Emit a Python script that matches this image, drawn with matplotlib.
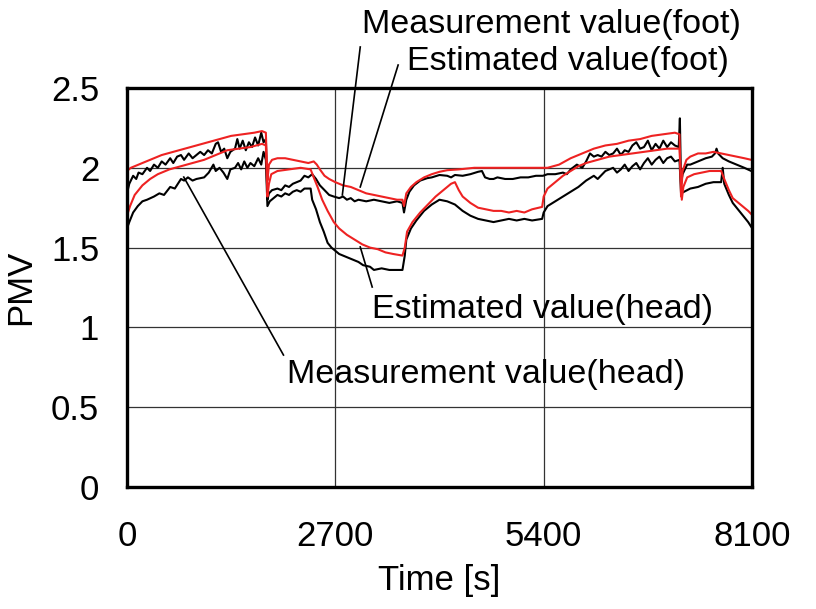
import matplotlib
matplotlib.use("Agg")
import matplotlib.pyplot as plt

plt.rcParams['font.family'] = ['Liberation Sans', 'DejaVu Sans']

# Measurement value (foot) - black, upper
t_meas_foot = [0, 30, 80, 120, 150, 200, 260, 300, 350, 400, 450, 500, 560, 600, 650, 700, 740, 800, 850, 900,
               950, 1000, 1050, 1100, 1150, 1180, 1220, 1260, 1300, 1340, 1400, 1430, 1460, 1500, 1540, 1580, 1620,
               1660, 1700, 1740, 1770, 1800, 1820, 1840, 1880, 1950, 2000, 2050, 2100, 2150, 2200, 2250, 2300, 2350,
               2400, 2450, 2500, 2560, 2620, 2680, 2750, 2800, 2850, 2900, 2950, 3000, 3100, 3200, 3300, 3400, 3500,
               3570, 3590, 3620, 3660, 3720, 3800, 3890, 3950, 4050, 4150, 4200, 4250, 4350, 4450, 4550, 4600, 4640,
               4700, 4750, 4800, 4900, 5000, 5100, 5200, 5300, 5390, 5450, 5550, 5650, 5700, 5750, 5830, 5900, 5950,
               6000, 6050, 6100, 6150, 6200, 6250, 6300, 6350, 6400, 6450, 6500, 6550, 6600, 6650, 6700, 6750, 6800,
               6850, 6900, 6950, 7000, 7050, 7100, 7150, 7165, 7180, 7200, 7260, 7300, 7400, 7500, 7580, 7620, 7640,
               7660, 7720, 7800, 7900, 8000, 8090]
v_meas_foot = [1.84, 1.90, 1.95, 1.93, 1.97, 1.96, 2.00, 1.98, 2.02, 2.00, 2.04, 2.02, 2.06, 2.03, 2.07, 2.08, 2.05,
               2.09, 2.06, 2.08, 2.10, 2.08, 2.11, 2.09, 2.15, 2.16, 2.10, 2.12, 2.06, 2.10, 2.12, 2.18, 2.12, 2.17,
               2.11, 2.16, 2.13, 2.19, 2.14, 2.22, 2.16, 2.18, 1.80, 1.84, 1.86, 1.87, 1.86, 1.89, 1.88, 1.90, 1.91,
               1.92, 1.95, 1.94, 1.96, 1.93, 1.89, 1.86, 1.83, 1.82, 1.81, 1.82, 1.80, 1.81, 1.79, 1.80, 1.79, 1.80,
               1.79, 1.78, 1.79, 1.78, 1.72, 1.80, 1.85, 1.89, 1.92, 1.935, 1.94, 1.955, 1.95, 1.94, 1.955, 1.95, 1.96,
               1.975, 1.98, 1.94, 1.93, 1.93, 1.94, 1.93, 1.93, 1.94, 1.94, 1.95, 1.95, 1.96, 1.96, 1.97, 1.96, 1.99,
               2.02, 2.00, 2.04, 2.09, 2.07, 2.08, 2.07, 2.10, 2.08, 2.09, 2.12, 2.08, 2.11, 2.10, 2.14, 2.16, 2.12,
               2.13, 2.17, 2.11, 2.15, 2.12, 2.17, 2.13, 2.16, 2.14, 2.13, 2.31, 1.90, 1.96, 2.02, 2.02, 2.04, 2.06,
               2.07, 2.09, 2.12, 2.09, 2.06, 2.04, 2.02, 2.00, 1.98]

# Estimated value (foot) - red, upper
t_est_foot = [0, 50, 150, 300, 450, 600, 750, 900, 1050, 1200, 1350, 1500, 1650, 1750, 1800, 1820, 1840, 1880, 1950,
              2050, 2150, 2250, 2350, 2420, 2460, 2500, 2560, 2620, 2700, 2800, 2900, 3000, 3100, 3200, 3300, 3400,
              3500, 3570, 3590, 3620, 3680, 3750, 3850, 3950, 4050, 4150, 4300, 4500, 4700, 4900, 5100, 5300, 5450,
              5600, 5750, 5900, 6050, 6200, 6350, 6500, 6650, 6800, 6950, 7100, 7160, 7180, 7200, 7250, 7300, 7400,
              7500, 7600, 7700, 7800, 7900, 8000, 8090]
v_est_foot = [1.98, 2.00, 2.02, 2.05, 2.08, 2.10, 2.12, 2.14, 2.16, 2.18, 2.20, 2.21, 2.22, 2.23, 2.22, 1.92, 2.02,
              2.05, 2.06, 2.06, 2.05, 2.04, 2.03, 2.04, 2.02, 1.99, 1.95, 1.93, 1.91, 1.89, 1.88, 1.86, 1.84, 1.83,
              1.82, 1.81, 1.80, 1.80, 1.76, 1.84, 1.88, 1.91, 1.94, 1.96, 1.975, 1.985, 1.99, 2.00, 2.00, 2.00, 2.00,
              2.00, 2.00, 2.02, 2.06, 2.09, 2.12, 2.14, 2.15, 2.17, 2.18, 2.20, 2.21, 2.22, 2.21, 1.82, 1.98, 2.05,
              2.07, 2.09, 2.09, 2.10, 2.09, 2.08, 2.07, 2.06, 2.05]

# Measurement value (head) - black, lower
t_meas_head = [0, 30, 80, 140, 200, 260, 350, 420, 480, 560, 620, 700, 740, 790, 850, 900, 1000, 1060, 1120, 1150,
               1200, 1250, 1300, 1340, 1400, 1440, 1480, 1520, 1560, 1600, 1650, 1700, 1740, 1770, 1800, 1820, 1850,
               1900, 1950, 2000, 2050, 2100, 2150, 2200, 2250, 2300, 2380, 2400, 2450, 2500, 2550, 2600, 2650, 2700,
               2750, 2800, 2900, 3000, 3060, 3150, 3200, 3300, 3400, 3500, 3570, 3600, 3620, 3680, 3750, 3850, 3950,
               4050, 4150, 4250, 4350, 4450, 4550, 4650, 4750, 4850, 4950, 5050, 5150, 5250, 5380, 5400, 5450, 5550,
               5650, 5750, 5850, 5950, 6050, 6100, 6200, 6300, 6350, 6400, 6450, 6500, 6550, 6600, 6650, 6700, 6750,
               6800, 6850, 6900, 6950, 7000, 7050, 7100, 7160, 7180, 7220, 7300, 7400, 7500, 7600, 7700, 7720, 7740,
               7800, 7850, 7950, 8050, 8090]
v_meas_head = [1.62, 1.66, 1.72, 1.76, 1.79, 1.80, 1.82, 1.84, 1.83, 1.88, 1.87, 1.93, 1.92, 1.94, 1.92, 1.93, 1.94,
               1.97, 2.02, 1.98, 2.00, 1.97, 1.93, 1.99, 2.00, 2.03, 1.99, 2.04, 2.00, 2.03, 2.01, 2.06, 2.02, 2.10,
               2.05, 1.76, 1.79, 1.81, 1.83, 1.82, 1.84, 1.83, 1.85, 1.86, 1.85, 1.87, 1.87, 1.80, 1.74, 1.66, 1.60,
               1.53, 1.50, 1.48, 1.46, 1.45, 1.43, 1.41, 1.39, 1.38, 1.36, 1.37, 1.36, 1.36, 1.36, 1.45, 1.55, 1.62,
               1.67, 1.73, 1.77, 1.80, 1.79, 1.77, 1.73, 1.70, 1.68, 1.67, 1.66, 1.67, 1.68, 1.67, 1.68, 1.67, 1.68,
               1.72, 1.76, 1.79, 1.82, 1.85, 1.88, 1.92, 1.95, 1.93, 1.98, 2.00, 1.97, 1.99, 2.02, 1.98, 2.01, 2.03,
               1.99, 2.03, 2.06, 2.02, 2.05, 2.07, 2.03, 2.06, 2.07, 2.04, 2.05, 1.84, 1.85, 1.87, 1.88, 1.90, 1.91,
               1.91, 2.00, 1.90, 1.83, 1.78, 1.72, 1.66, 1.63]

# Estimated value (head) - red, lower
t_est_head = [0, 40, 100, 200, 300, 400, 550, 700, 850, 1000, 1150, 1300, 1450, 1600, 1750, 1800, 1820, 1840, 1870,
              1950, 2100, 2250, 2380, 2420, 2470, 2530, 2600, 2680, 2750, 2850, 2950, 3050, 3150, 3250, 3350, 3450,
              3570, 3600, 3630, 3700, 3800, 3900, 4000, 4100, 4200, 4250, 4300, 4350, 4450, 4550, 4650, 4750, 4850,
              4950, 5050, 5150, 5250, 5380, 5400, 5450, 5550, 5650, 5750, 5850, 5950, 6100, 6250, 6400, 6550, 6700,
              6850, 7000, 7160, 7190, 7210, 7260, 7350, 7450, 7550, 7650, 7700, 7740, 7800, 7850, 7950, 8050, 8090]
v_est_head = [1.70, 1.76, 1.83, 1.89, 1.93, 1.96, 1.99, 2.01, 2.03, 2.05, 2.08, 2.11, 2.12, 2.13, 2.15, 2.14, 1.82,
              1.90, 1.96, 1.98, 1.99, 2.00, 1.99, 1.94, 1.88, 1.80, 1.73, 1.66, 1.62, 1.58, 1.55, 1.52, 1.50, 1.49,
              1.47, 1.46, 1.45, 1.50, 1.60, 1.66, 1.72, 1.77, 1.82, 1.86, 1.90, 1.91, 1.86, 1.82, 1.78, 1.75, 1.74,
              1.73, 1.73, 1.72, 1.73, 1.72, 1.74, 1.755, 1.82, 1.87, 1.91, 1.95, 1.98, 2.01, 2.03, 2.05, 2.07, 2.08,
              2.09, 2.10, 2.11, 2.12, 2.12, 1.80, 1.88, 1.94, 1.96, 1.97, 1.98, 1.98, 1.98, 1.93, 1.86, 1.81, 1.77,
              1.73, 1.71]

x_ticks = [0, 2700, 5400, 8100]
y_ticks = [0, 0.5, 1, 1.5, 2, 2.5]

fig = plt.figure(figsize=(8.16, 6.09), dpi=100)
ax = fig.add_axes([0.1556, 0.2003, 0.766, 0.6552])

ax.plot(t_meas_head, v_meas_head, color='black', lw=1.5)
ax.plot(t_meas_foot, v_meas_foot, color='black', lw=1.5)
ax.plot(t_est_head, v_est_head, color='#ee2222', lw=1.5)
ax.plot(t_est_foot, v_est_foot, color='#ee2222', lw=1.5)

ax.set_xlim(0, 8100)
ax.set_ylim(0, 2.5)
ax.set_xticks(x_ticks)
ax.set_yticks(y_ticks)
ax.set_yticklabels(['0', '0.5', '1', '1.5', '2', '2.5'])
ax.tick_params(length=0, labelsize=25)
ax.tick_params(axis='x', pad=24)
ax.tick_params(axis='y', pad=20)
ax.grid(True, color='#333333', lw=0.9)
ax.set_axisbelow(True)
for s in ax.spines.values():
    s.set_linewidth(2.4)

ax.set_xlabel('Time [s]', fontsize=25, labelpad=8)
ax.set_ylabel('PMV', fontsize=25, labelpad=10)

# labels with leader lines
ax.text(3049, 2.895, 'Measurement value(foot)', fontsize=24.5, va='center', ha='left', clip_on=False)
ax.plot([3023, 2791], [2.757, 1.83], color='black', lw=1.2, clip_on=False)
ax.text(3630, 2.669, 'Estimated value(foot)', fontsize=24.5, va='center', ha='left', clip_on=False)
ax.plot([3514, 3023], [2.644, 1.88], color='black', lw=1.2, clip_on=False)
ax.text(3178, 1.115, 'Estimated value(head)', fontsize=24.5, va='center', ha='left')
ax.plot([3178, 3023], [1.253, 1.504], color='black', lw=1.2)
ax.text(2080, 0.708, 'Measurement value(head)', fontsize=24.5, va='center', ha='left')
ax.plot([2028, 736], [0.827, 1.942], color='black', lw=1.2)

fig.savefig('out.png', dpi=100)
